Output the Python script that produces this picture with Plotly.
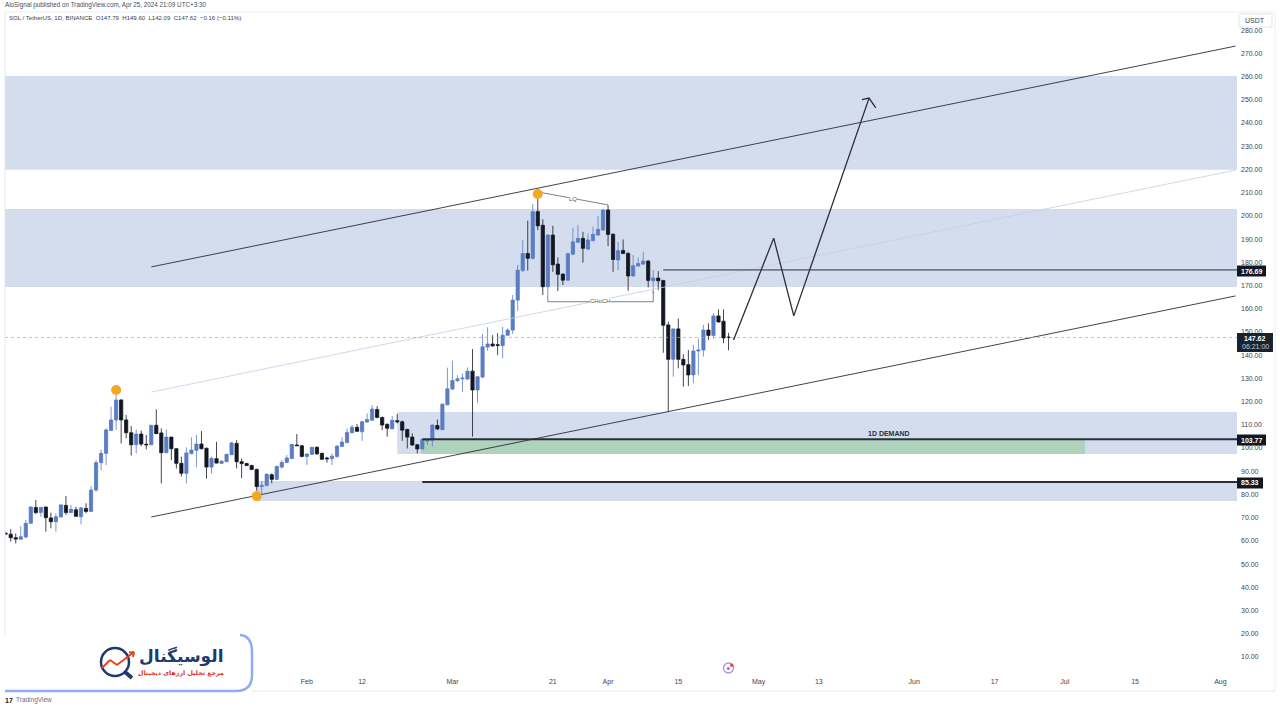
import pandas as pd
import plotly.graph_objects as go

# ---- data ----
start_date = "2023-12-03"
opens = [63.3,62.9,61.4,60.7,61.7,67.6,74.4,72.2,74.6,69.9,68.3,70.3,75.3,72.2,73.4,70.4,74.0,72.7,81.9,93.7,
 97.7,107.6,112.1,120.7,112.1,106.6,101.4,106.0,101.6,101.4,109.8,106.5,98.0,104.7,99.7,93.4,89.1,97.6,99.0,101.7,
 99.9,91.8,95.4,93.4,94.1,97.1,102.0,94.1,93.3,92.5,90.8,83.4,83.9,88.5,86.5,91.8,93.8,95.5,101.3,101.0,
 96.4,97.3,100.3,97.7,95.7,95.4,96.4,100.7,102.4,106.6,108.9,107.0,111.2,112.0,116.6,113.2,110.2,108.3,111.8,111.3,
 108.0,104.7,101.4,99.6,103.0,103.3,109.7,107.9,118.6,125.4,129.0,129.8,129.7,133.1,125.0,130.6,143.5,144.8,144.5,144.1,
 148.6,150.8,163.7,176.4,183.8,181.7,201.8,195.9,169.5,191.7,179.2,174.9,172.3,183.5,188.6,190.3,185.7,189.3,191.7,193.9,
 202.5,192.1,181.0,185.1,183.8,174.1,178.4,179.2,180.5,172.0,173.2,172.2,153.0,138.2,151.3,138.2,135.9,131.5,141.8,142.2,
 150.8,148.5,156.9,154.6,147.79]
highs = [64.0,65.1,63.2,66.4,69.0,74.8,77.6,74.7,74.7,72.2,71.9,75.7,79.3,75.5,74.7,74.7,76.2,83.6,94.8,99.4,
 108.5,117.8,122.8,121.0,114.2,109.5,108.0,107.5,105.6,109.9,116.7,108.5,108.0,104.9,99.9,96.3,100.3,104.6,105.6,107.3,
 100.2,96.3,102.7,94.8,97.4,102.7,103.4,95.5,93.7,92.8,91.1,85.9,89.1,89.1,92.5,94.8,97.0,101.7,106.0,101.3,
 97.7,100.6,100.8,98.0,96.2,97.7,101.3,104.6,108.5,109.9,110.3,111.8,114.9,118.5,118.1,113.5,110.6,113.8,114.6,111.8,
 108.3,106.3,101.7,104.0,103.7,110.2,112.3,119.2,134.6,137.6,131.4,132.1,134.7,142.6,131.0,149.1,152.0,148.6,149.4,152.2,
 151.5,165.9,178.8,189.6,197.9,205.1,209.4,198.5,192.1,195.7,182.1,175.2,184.1,194.9,196.0,193.1,192.4,195.3,199.9,202.8,
 204.6,192.4,188.8,189.8,184.5,183.1,182.1,184.5,180.9,176.6,176.2,172.3,154.4,151.5,155.8,140.4,142.2,144.4,147.2,153.0,
 153.7,158.0,159.7,159.7,149.60]
lows = [62.5,59.7,58.9,60.6,61.1,67.5,71.6,70.4,64.0,65.4,64.0,70.2,71.2,71.9,70.4,67.1,71.9,72.6,81.2,90.5,
 92.7,107.5,107.8,102.0,104.2,96.8,97.7,100.9,99.4,101.3,106.0,84.8,97.7,94.8,91.2,87.7,84.8,97.3,91.7,99.4,
 86.8,89.1,93.4,93.1,94.0,97.0,91.2,87.0,92.2,90.5,81.6,79.8,83.4,84.8,86.2,91.2,93.4,95.3,100.9,96.0,
 92.7,97.0,97.0,94.8,93.7,92.7,95.8,100.6,102.0,106.3,106.9,103.1,110.9,111.8,112.8,107.7,104.9,108.0,110.6,103.1,
 99.8,101.0,97.7,99.4,101.3,100.6,107.7,107.7,118.4,125.0,128.5,124.2,129.3,104.9,119.5,130.0,141.9,143.6,140.0,138.6,
 148.2,149.1,159.1,175.9,176.4,181.2,193.9,165.9,165.9,175.9,167.6,170.2,172.0,183.1,188.4,179.8,185.3,189.1,191.4,193.6,
 187.0,175.9,176.6,183.5,167.7,173.8,178.1,178.9,169.2,166.6,168.0,141.0,115.6,130.7,134.3,126.4,126.7,127.9,131.5,139.4,
 146.5,147.2,154.0,145.1,142.09]
closes = [63.0,61.4,60.8,61.8,67.6,74.6,72.2,74.4,70.0,68.3,70.4,75.5,72.2,73.6,70.6,74.2,72.7,81.9,93.7,97.7,
 107.8,112.1,120.7,112.1,106.6,101.4,106.0,101.7,101.4,109.8,106.2,98.0,104.7,99.7,93.4,89.1,97.9,99.1,101.7,99.7,
 91.8,95.5,93.5,94.3,97.3,102.2,94.1,93.3,92.5,90.8,83.4,83.9,88.7,86.5,92.0,93.8,95.7,101.6,101.0,96.4,
 97.4,100.3,97.5,95.2,95.4,96.5,100.8,102.6,106.7,109.0,107.2,111.3,112.3,116.8,113.2,109.9,108.5,112.0,111.3,107.7,
 104.7,101.3,99.6,103.7,103.6,109.9,108.2,118.9,125.5,129.1,129.8,130.1,133.1,125.0,130.7,143.6,144.8,144.0,144.2,148.6,
 150.8,163.7,176.6,183.8,181.7,201.8,195.7,169.5,191.7,178.9,174.8,172.3,183.7,188.8,190.3,186.0,189.6,192.0,194.2,202.5,
 192.0,181.2,185.0,183.8,174.1,178.5,179.5,180.5,172.2,173.2,172.0,152.9,138.2,151.3,138.2,135.8,131.5,141.8,142.2,150.8,
 148.5,156.9,154.3,147.4,147.62]

channel_dates = ["2024-01-01", "2024-08-04"]
upper_channel = [178.0, 273.1]
middle_channel = [124.1, 219.7]
lower_channel = [70.3, 165.5]

path_dates = ["2024-04-26", "2024-05-04", "2024-05-08", "2024-05-23"]
path_prices = [146.5, 190.4, 156.9, 250.7]
head_dates = ["2024-05-21 14:00", "2024-05-23", "2024-05-24 08:00"]
head_prices = [250.0, 250.7, 246.5]

lq_dates = ["2024-03-18", "2024-04-01"]
lq_prices = [210.3, 204.7]
choch_dates = ["2024-03-20", "2024-03-20", "2024-04-10", "2024-04-10"]
choch_prices = [165.9, 163.0, 163.0, 167.6]

pivot_dates = ["2023-12-25", "2024-01-22", "2024-03-18"]
pivot_prices = [125.0, 79.3, 209.4]

tick_dates = ["2024-02-01","2024-02-12","2024-03-01","2024-03-21","2024-04-01","2024-04-15","2024-05-01",
              "2024-05-13","2024-06-01","2024-06-17","2024-07-01","2024-07-15","2024-08-01"]
tick_labels = ["Feb","12","Mar","21","Apr","15","May","13","Jun","17","Jul","15","Aug"]
price_ticks = list(range(10, 290, 10))

last_price = 147.62
level_a, level_b, level_c = 176.69, 103.77, 85.33
x_min, x_max = "2023-12-02 20:38", "2024-08-04 07:12"
zones = [(x_min, x_max, 219.8, 260.2), (x_min, x_max, 169.3, 202.9),
         ("2024-02-19", x_max, 97.4, 115.5), ("2024-01-22", x_max, 77.2, 85.8)]
green_zone = ("2024-02-23 18:00", "2024-07-05", 97.4, 103.77)

# ---- styling ----
BLUE, BLACK, ZONE, GREEN = "#5a7cc3", "#131722", "#d4ddee", "#aed2bc"
INK, GREY = "#2b2e36", "#505560"
FONT = "Liberation Sans"
L, R, T, B = 5, 1237, 12, 676
px = lambda x: (x - L) / (R - L)
py = lambda y: (B - y) / (B - T)

dates = pd.date_range(start_date, periods=len(opens), freq="D")
fig = go.Figure()
fig.add_trace(go.Candlestick(
    x=dates, open=opens, high=highs, low=lows, close=closes, whiskerwidth=0,
    increasing=dict(line=dict(color=BLUE, width=0.8), fillcolor=BLUE),
    decreasing=dict(line=dict(color=BLACK, width=0.8), fillcolor=BLACK),
    showlegend=False))

def line(x, y, color=INK, width=1, dash="solid"):
    fig.add_trace(go.Scatter(x=x, y=y, mode="lines", showlegend=False, hoverinfo="skip",
                             line=dict(color=color, width=width, dash=dash)))

line(channel_dates, upper_channel, INK, 0.9)
line(channel_dates, middle_channel, "#c3cfe6", 0.8)
line(channel_dates, lower_channel, INK, 0.9)
line([x_min, x_max], [last_price]*2, "#a4a7ae", 0.7, "dot")
line(["2024-04-12", x_max], [level_a]*2, INK, 1)
line(["2024-02-24", x_max], [level_b]*2, INK, 2)
line(["2024-02-24", x_max], [level_c]*2, INK, 2)
line(path_dates, path_prices, INK, 1.3)
line(head_dates, head_prices, INK, 1.3)
line(lq_dates, lq_prices, "#5c5f68", 0.8)
line(choch_dates, choch_prices, "#5c5f68", 0.8)
fig.add_trace(go.Scatter(x=pivot_dates, y=pivot_prices, mode="markers", showlegend=False, hoverinfo="skip",
                         marker=dict(color="#f5a623", size=10, line=dict(width=0))))

shapes = []
for x0, x1, y0, y1 in zones:
    shapes.append(dict(type="rect", x0=x0, x1=x1, y0=y0, y1=y1, xref="x", yref="y",
                       fillcolor=ZONE, line_width=0, layer="below"))
g0, g1, gy0, gy1 = green_zone
shapes.append(dict(type="rect", x0=g0, x1=g1, y0=gy0, y1=gy1, xref="x", yref="y",
                   fillcolor=GREEN, line_width=0, layer="below"))

# frame
def pline(x0, y0, x1, y1, color, width=1, layer="above"):
    shapes.append(dict(type="line", xref="paper", yref="paper", x0=px(x0), y0=py(y0), x1=px(x1), y1=py(y1),
                       line=dict(color=color, width=width), layer=layer))
pline(5, 12, 1275, 12, "#eef0f3")
pline(5, 12, 5, 636, "#e6e8ec")
pline(1275, 12, 1275, 691, "#eef0f3")
pline(252, 691, 1275, 691, "#e6e8ec")

# logo card
card = "M {} {} L {} {} Q {} {} {} {} L {} {} Q {} {} {} {} L {} {} Z".format(
    px(0), py(691), px(236), py(691), px(252), py(691), px(252), py(675),
    px(252), py(652), px(252), py(636), px(238), py(636), px(0), py(636))
shapes.append(dict(type="path", xref="paper", yref="paper", path=card, fillcolor="white", line_width=0, layer="above"))
edge = "M {} {} L {} {} Q {} {} {} {} L {} {} Q {} {} {} {}".format(
    px(5), py(691), px(236), py(691), px(252), py(691), px(252), py(675),
    px(252), py(652), px(252), py(636), px(240), py(635))
shapes.append(dict(type="path", xref="paper", yref="paper", path=edge, line=dict(color="#8fadf3", width=2.5), layer="above"))
shapes.append(dict(type="circle", xref="paper", yref="paper", x0=px(101), x1=px(129), y0=py(676), y1=py(648),
                   line=dict(color="#1f3a6e", width=2.5), fillcolor="white", layer="above"))
pline(125, 672, 132, 678, "#1f3a6e", 4)
for a, b, c, d in [(102, 668, 110, 660), (110, 660, 117, 665), (117, 665, 134, 652)]:
    pline(a, b, c, d, "#e8431f", 2)
pline(134, 652, 129, 652.5, "#e8431f", 2)
pline(134, 652, 133, 657, "#e8431f", 2)

# small icon on the time axis row
shapes.append(dict(type="circle", xref="paper", yref="paper", x0=px(723.5), x1=px(733.5), y0=py(673), y1=py(663),
                   line=dict(color="#b98ae0", width=1.3), fillcolor="white", layer="above"))
shapes.append(dict(type="circle", xref="paper", yref="paper", x0=px(730), x1=px(733.5), y0=py(667), y1=py(663.5),
                   line_width=0, fillcolor="#e8433c", layer="above"))
shapes.append(dict(type="circle", xref="paper", yref="paper", x0=px(726.8), x1=px(729.8), y0=py(670), y1=py(667),
                   line_width=0, fillcolor="#b05fd8", layer="above"))

ann = []
def text(x, y, s, size=7, color=GREY, anchor="left", yanchor="middle", bg=None, bold=False, font=FONT):
    ann.append(dict(xref="paper", yref="paper", x=px(x), y=py(y), text=f"<b>{s}</b>" if bold else s,
                    showarrow=False, xanchor=anchor, yanchor=yanchor, bgcolor=bg,
                    font=dict(size=size, color=color, family=font), borderpad=0, borderwidth=0))
text(5, 5, "AloSignal published on TradingView.com, Apr 25, 2024 21:09 UTC+3:30", 6.3, "#4a4e58")
text(9, 18, "SOL / TetherUS, 1D, BINANCE  O147.79  H149.60  L142.09  C147.62  −0.16 (−0.11%)", 6.05, "#3a3e48")
text(1255, 20, "USDT", 7, "#3a3e48", "center")
text(573, 199, "LQ", 6, "#50535c", "center", bg="white")
text(600, 301, "CHoCH", 6, "#50535c", "center", bg="white")
text(889, 433, "1D DEMAND", 7, INK, "center", bold=True)
text(181, 656, "الوسیگنال", 17, "#1f3a6e", "center", bold=True, font="DejaVu Sans")
text(181, 673, "مرجع تحلیل ارزهای دیجیتال", 6.3, "#e0301e", "center", bold=True, font="DejaVu Sans")
text(5, 700, "<b>17</b>", 7, "#131722")
text(16, 700, "TradingView", 6.5, "#6a6e78")

# price labels
def box(x0, x1, y0, y1, fill):
    shapes.append(dict(type="rect", xref="paper", yref="paper", x0=px(x0), x1=px(x1), y0=py(y1), y1=py(y0),
                       fillcolor=fill, line_width=0, layer="above"))
shapes.append(dict(type="rect", xref="paper", yref="paper", x0=px(1239), x1=px(1272), y0=py(27), y1=py(14),
                   fillcolor="white", line=dict(color="#e4e6ea", width=1), layer="above"))
for value, yp, w in [(level_a, 271, 29), (level_b, 440, 29), (level_c, 483, 26)]:
    box(1237, 1237 + w, yp - 5.5, yp + 5.5, BLACK)
    text(1237 + w / 2, yp, f"{value:.2f}", 7, "white", "center", bold=True)
box(1237, 1273, 333, 352, "#1a2230")
text(1255, 338.5, f"{last_price:.2f}", 7, "white", "center", bold=True)
text(1255, 346.5, "06:21:00", 7, "#c8ccd4", "center")

fig.update_layout(
    width=1280, height=720, autosize=False,
    margin=dict(l=L, r=1280 - R, t=T, b=720 - B, pad=0),
    paper_bgcolor="white", plot_bgcolor="white",
    font=dict(family=FONT, size=7, color=GREY),
    shapes=shapes, annotations=ann, showlegend=False, boxgap=0.2, boxgroupgap=0.2,
    xaxis=dict(type="date", range=[x_min, x_max], rangeslider=dict(visible=False), showgrid=False, zeroline=False,
               tickmode="array", tickvals=tick_dates, ticktext=tick_labels, ticks="", showline=False,
               tickfont=dict(size=7, color="#3f4350", family=FONT)),
    yaxis=dict(side="right", range=[1.82, 287.78], showgrid=False, zeroline=False, tickmode="array",
               tickvals=price_ticks, ticktext=[f"{p:.2f}" for p in price_ticks], ticks="", showline=False,
               ticklabelstandoff=3, tickfont=dict(size=7, color="#3f4350", family=FONT)),
)
fig.write_html("out.html", config={"displayModeBar": False},
               post_script="document.body.style.margin='0';document.body.style.overflow='hidden';")
